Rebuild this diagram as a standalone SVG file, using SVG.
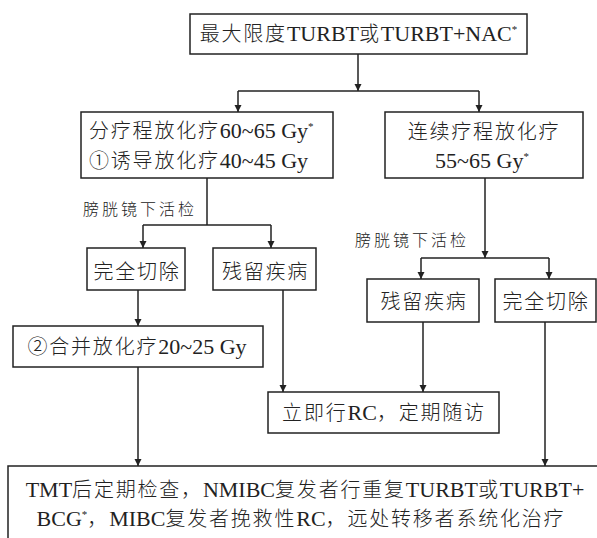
<svg xmlns="http://www.w3.org/2000/svg" width="597" height="538" viewBox="0 0 597 538">
<style>
.box{fill:#fff;stroke:#222;stroke-width:1.5}
.t{font-family:"Liberation Serif","Noto Sans CJK SC",serif;font-size:22px;fill:#222}
.c{text-anchor:middle}
.k{font-family:"Noto Sans CJK SC","Noto Sans CJK JP",sans-serif;font-size:20px;font-weight:300;letter-spacing:1.8px}
.lbl{font-family:"Noto Sans CJK SC",sans-serif;font-size:16px;font-weight:300;fill:#222;letter-spacing:3px}
.ln{fill:none;stroke:#222;stroke-width:1.5}
.sup{font-size:11px}
</style>
<defs>
<marker id="ah" markerWidth="8" markerHeight="8" refX="7" refY="4" orient="auto" markerUnits="userSpaceOnUse">
<path d="M0,0.5 L7,4 L0,7.5 Z" fill="#222"/>
</marker>
</defs>
<g id="connectors">
<path class="ln" d="M358,54 V91" marker-end="url(#ah)"/>
<path class="ln" d="M238,91 H479"/>
<path class="ln" d="M238,91 V112" marker-end="url(#ah)"/>
<path class="ln" d="M479,91 V112" marker-end="url(#ah)"/>
<path class="ln" d="M207,178 V225"/>
<path class="ln" d="M143,225 H271"/>
<path class="ln" d="M143,225 V248" marker-end="url(#ah)"/>
<path class="ln" d="M271,225 V248" marker-end="url(#ah)"/>
<path class="ln" d="M485,178 V258" marker-end="url(#ah)"/>
<path class="ln" d="M421,258 H549"/>
<path class="ln" d="M421,258 V279" marker-end="url(#ah)"/>
<path class="ln" d="M549,258 V279" marker-end="url(#ah)"/>
<path class="ln" d="M138,290 V326" marker-end="url(#ah)"/>
<path class="ln" d="M138,367 V466" marker-end="url(#ah)"/>
<path class="ln" d="M283,290 V392" marker-end="url(#ah)"/>
<path class="ln" d="M423,322 V392" marker-end="url(#ah)"/>
<path class="ln" d="M545,322 V466" marker-end="url(#ah)"/>
<text class="lbl" x="83" y="215">膀胱镜下活检</text>
<text class="lbl" x="355" y="246">膀胱镜下活检</text>
</g>
<g id="n1">
<rect class="box" x="190" y="14" width="337" height="40"/>
<text class="t c" x="358.5" y="41"><tspan class="k" letter-spacing="1">最大限度</tspan>TURBT<tspan class="k" letter-spacing="1">或</tspan>TURBT+NAC<tspan class="sup" dy="-8">*</tspan></text>
</g>
<g id="n2">
<rect class="box" x="81" y="112" width="252" height="66"/>
<text class="t" x="89" y="138"><tspan class="k">分疗程放化疗</tspan>60~65 Gy<tspan class="sup" dy="-8">*</tspan></text>
<text class="t" x="89" y="168"><tspan class="k">①诱导放化疗</tspan>40~45 Gy</text>
</g>
<g id="n3">
<rect class="box" x="385" y="112" width="198" height="66"/>
<text class="t c" x="484" y="139"><tspan class="k">连续疗程放化疗</tspan></text>
<text class="t c" x="482" y="168">55~65 Gy<tspan class="sup" dy="-8">*</tspan></text>
</g>
<g id="n4">
<rect class="box" x="87" y="248" width="98" height="42"/>
<text class="t c" x="137" y="279"><tspan class="k">完全切除</tspan></text>
</g>
<g id="n5">
<rect class="box" x="213" y="248" width="103" height="42"/>
<text class="t c" x="265.5" y="279"><tspan class="k">残留疾病</tspan></text>
</g>
<g id="n6">
<rect class="box" x="13" y="326" width="250" height="41"/>
<text class="t c" x="137" y="354"><tspan class="k">②合并放化疗</tspan>20~25 Gy</text>
</g>
<g id="n7">
<rect class="box" x="367" y="279" width="112" height="43"/>
<text class="t c" x="424" y="309"><tspan class="k">残留疾病</tspan></text>
</g>
<g id="n8">
<rect class="box" x="495" y="279" width="101" height="43"/>
<text class="t c" x="546" y="309"><tspan class="k">完全切除</tspan></text>
</g>
<g id="n9">
<rect class="box" x="268" y="392" width="231" height="41"/>
<text class="t c" x="384" y="420"><tspan class="k">立即行</tspan>RC<tspan class="k">，定期随访</tspan></text>
</g>
<g id="n10">
<rect class="box" x="8" y="466" width="600" height="80"/>
<text class="t c" x="305" y="497">TMT<tspan class="k">后定期检查，</tspan>NMIBC<tspan class="k">复发者行重复</tspan>TURBT<tspan class="k">或</tspan>TURBT+</text>
<text class="t c" x="301" y="526">BCG<tspan class="sup" dy="-8">*</tspan><tspan class="k" dy="8">，</tspan>MIBC<tspan class="k">复发者挽救性</tspan>RC<tspan class="k">，远处转移者系统化治疗</tspan></text>
</g>
</svg>
